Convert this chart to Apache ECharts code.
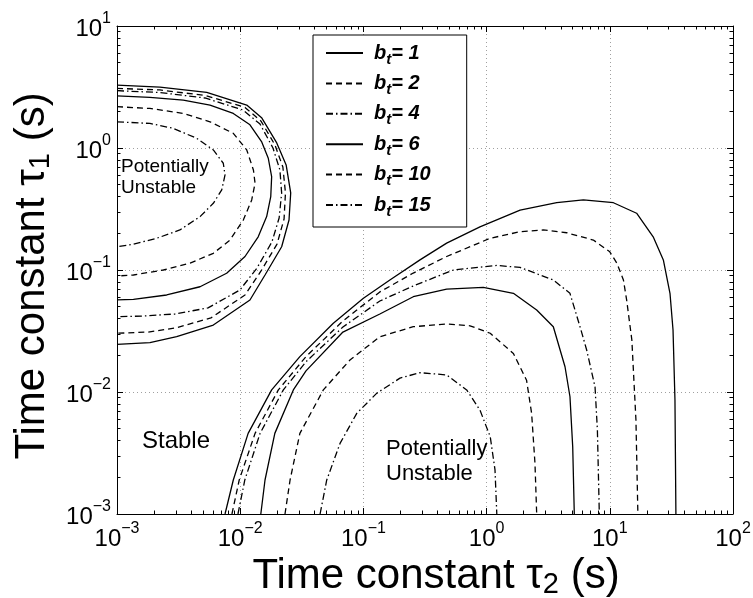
<!DOCTYPE html>
<html>
<head>
<meta charset="utf-8">
<script src="https://cdn.jsdelivr.net/npm/echarts@6/dist/echarts.min.js"></script>
<style>
  html, body { margin: 0; padding: 0; background: #fff; overflow: hidden; }
  #chart { width: 753px; height: 598px; }
</style>
</head>
<body>
<div id="chart"></div>
<script>
// Stability boundaries in the (tau2, tau1) plane for several b_t values.
const bValues = [1, 2, 4, 6, 10, 15];
const xTickValues = [1e-3, 1e-2, 1e-1, 1e0, 1e1, 1e2];
const yTickValues = [1e-3, 1e-2, 1e-1, 1e0, 1e1];

// Upper-left island: [tau2, tau1]
const upperB1 = [[0.001,3.28],[0.00223,3.16],[0.00535,2.86],[0.0113,2.25],[0.0150,1.76],[0.0198,1.10],[0.0236,0.726],[0.0257,0.428],[0.0249,0.257],[0.0217,0.155],[0.0159,0.091],[0.0120,0.0568],[0.00605,0.0354],[0.00305,0.0284],[0.00185,0.0254],[0.001,0.0246]];
const upperB2 = [[0.001,3.08],[0.00223,2.99],[0.00527,2.69],[0.01094,2.15],[0.01476,1.66],[0.01914,1.06],[0.0222,0.698],[0.0233,0.428],[0.0227,0.262],[0.0199,0.163],[0.01476,0.0982],[0.01094,0.0624],[0.00579,0.0405],[0.00301,0.0335],[0.00179,0.0310],[0.001,0.0303]];
const upperB4 = [[0.001,2.95],[0.00223,2.85],[0.00518,2.57],[0.01054,2.05],[0.01449,1.57],[0.01845,1.0],[0.0210,0.661],[0.0217,0.428],[0.0207,0.267],[0.0181,0.170],[0.0137,0.104],[0.00995,0.0686],[0.00548,0.0489],[0.00296,0.0436],[0.00169,0.0420],[0.001,0.0414]];
const upperB6 = [[0.001,2.67],[0.00185,2.60],[0.00345,2.47],[0.00569,2.25],[0.00879,1.92],[0.0120,1.55],[0.0149,1.13],[0.0169,0.824],[0.0180,0.582],[0.0177,0.399],[0.0164,0.274],[0.0140,0.187],[0.01094,0.129],[0.00776,0.0940],[0.00472,0.0729],[0.00253,0.0624],[0.00136,0.0575],[0.001,0.0568]];
const upperB10 = [[0.001,2.18],[0.00185,2.11],[0.00345,1.92],[0.00569,1.64],[0.00879,1.32],[0.0113,0.964],[0.0128,0.661],[0.0132,0.514],[0.0124,0.375],[0.0106,0.257],[0.00826,0.176],[0.00605,0.137],[0.00392,0.114],[0.00238,0.100],[0.00136,0.0910],[0.001,0.0893]];
const upperB15 = [[0.001,1.64],[0.00185,1.59],[0.00286,1.45],[0.00444,1.20],[0.00605,0.964],[0.00729,0.750],[0.00753,0.601],[0.00708,0.453],[0.00605,0.352],[0.00472,0.274],[0.00324,0.213],[0.00210,0.182],[0.00136,0.163],[0.001,0.155]];

// Lower-right region: [tau2, tau1]
const lowerB1 = [[0.00753,0.001],[0.00879,0.00190],[0.0116,0.00458],[0.0180,0.0104],[0.0305,0.0195],[0.0570,0.0366],[0.100,0.0586],[0.164,0.0828],[0.288,0.121],[0.474,0.166],[0.883,0.226],[1.87,0.310],[3.71,0.356],[6.10,0.375],[10.7,0.356],[16.5,0.292],[22.5,0.187],[27.2,0.121],[30.8,0.0644],[32.6,0.0322],[33.8,0.00859],[34.4,0.001]];
const lowerB2 = [[0.00857,0.001],[0.00982,0.00190],[0.0132,0.00458],[0.0204,0.0104],[0.0342,0.0195],[0.0682,0.0382],[0.136,0.0661],[0.254,0.0944],[0.474,0.129],[1.07,0.182],[1.87,0.206],[2.88,0.213],[4.47,0.202],[7.35,0.176],[10.0,0.141],[11.4,0.114],[12.9,0.0828],[13.7,0.0568],[15.1,0.0267],[16.3,0.00589],[16.9,0.001]];
const lowerB4 = [[0.00959,0.001],[0.0109,0.00190],[0.0145,0.00458],[0.0224,0.0104],[0.0342,0.0177],[0.0682,0.0341],[0.136,0.0557],[0.254,0.0740],[0.537,0.100],[1.21,0.109],[1.87,0.105],[3.48,0.0828],[4.75,0.0644],[5.73,0.0343],[6.49,0.0221],[7.59,0.0110],[7.93,0.00489],[8.22,0.001]];
const lowerB6 = [[0.0147,0.001],[0.0159,0.00190],[0.0191,0.00458],[0.0270,0.0104],[0.0342,0.0149],[0.0682,0.0310],[0.136,0.0436],[0.254,0.0604],[0.474,0.0698],[0.940,0.0721],[1.65,0.0644],[2.55,0.0470],[3.48,0.0343],[4.33,0.0161],[4.75,0.00914],[5.00,0.00356],[5.15,0.001]];
const lowerB10 = [[0.0231,0.001],[0.0254,0.00190],[0.0305,0.00458],[0.0473,0.0104],[0.0778,0.0183],[0.136,0.0284],[0.254,0.0343],[0.474,0.0361],[0.733,0.0349],[1.07,0.0303],[1.65,0.0207],[2.11,0.0125],[2.32,0.00668],[2.47,0.00260],[2.55,0.001]];
const lowerB15 = [[0.0445,0.001],[0.0504,0.00190],[0.0646,0.00379],[0.0883,0.00668],[0.128,0.00975],[0.198,0.0130],[0.288,0.0144],[0.474,0.0138],[0.689,0.0104],[0.883,0.00711],[1.07,0.00431],[1.17,0.00230],[1.21,0.001]];

const upperContours = [upperB1, upperB2, upperB4, upperB6, upperB10, upperB15];
const lowerContours = [lowerB1, lowerB2, lowerB4, lowerB6, lowerB10, lowerB15];

const FONT = '"Liberation Sans", Arial, Helvetica, sans-serif';
const DASH = { solid: 'solid', dashed: [6, 4], dashdot: [7, 3, 1.5, 3] };
const lineKinds = ['solid', 'dashed', 'dashdot', 'solid', 'dashed', 'dashdot'];

// minor tick positions (2..9 within each decade)
function minorTicks(lo, hi) {
  const out = [];
  for (let e = lo; e < hi; e++) for (let m = 2; m <= 9; m++) out.push(+(m * Math.pow(10, e)).toPrecision(3));
  return out;
}
const xMinor = minorTicks(-3, 2);
const yMinor = minorTicks(-3, 1);

const powerLabel = v => {
  const e = Math.round(Math.log10(v));
  return '{m|10}{e|' + String(e).replace('-', '\u2212') + '}';
};
const powerRich = {
  m: { fontSize: 24, fontFamily: FONT, color: '#000', lineHeight: 30, verticalAlign: 'bottom' },
  e: { fontSize: 16, fontFamily: FONT, color: '#000', lineHeight: 16, verticalAlign: 'top' }
};
const titleRich = {
  a: { fontSize: 42, fontFamily: FONT, color: '#000', lineHeight: 46, verticalAlign: 'middle' },
  s: { fontSize: 29, fontFamily: FONT, color: '#000', lineHeight: 12, verticalAlign: 'bottom' }
};

function axisSet(dim, pos, ticks, minor, extra) {
  const range = dim === 'x' ? { min: 1e-3, max: 1e2 } : { min: 1e-3, max: 1e1 };
  const base = Object.assign({ type: 'log', logBase: 10, position: pos }, range);
  const major = Object.assign({}, base, {
    axisLine: { show: true, onZero: false, lineStyle: { color: '#000', width: 1 } },
    axisTick: { show: true, inside: true, length: 6, customValues: ticks, lineStyle: { color: '#000', width: 1 } },
    axisLabel: { show: false },
    splitLine: { show: false }
  }, extra || {});
  const min = Object.assign({}, base, {
    axisLine: { show: false },
    axisTick: { show: true, inside: true, length: 3.5, customValues: minor, lineStyle: { color: '#000', width: 1 } },
    axisLabel: { show: false },
    splitLine: { show: false }
  });
  return [major, min];
}

const xAxes = [].concat(
  axisSet('x', 'bottom', xTickValues, xMinor, {
    axisLabel: { show: true, customValues: xTickValues, formatter: powerLabel, rich: powerRich, margin: 7 },
    splitLine: { show: true, lineStyle: { type: [1, 3], color: '#a0a0a0', width: 1 } },
    name: '{a|Time constant \u03c4}{s|2}{a| (s)}',
    nameLocation: 'middle',
    nameGap: 30,
    nameTextStyle: { rich: titleRich, padding: [0, 0, 0, 22] }
  }),
  axisSet('x', 'top', xTickValues, xMinor)
);
const yAxes = [].concat(
  axisSet('y', 'left', yTickValues, yMinor, {
    axisLabel: { show: true, customValues: yTickValues, formatter: powerLabel, rich: powerRich, margin: 6 },
    splitLine: { show: true, lineStyle: { type: [1, 3], color: '#a0a0a0', width: 1 } },
    name: '{a|Time constant \u03c4}{s|1}{a| (s)}',
    nameLocation: 'middle',
    nameGap: 62,
    nameTextStyle: { rich: titleRich, padding: [0, 12, 0, 0] }
  }),
  axisSet('y', 'right', yTickValues, yMinor)
);

const series = [];
bValues.forEach((b, i) => {
  const style = { color: '#000', width: 1.3, type: DASH[lineKinds[i]] };
  [upperContours[i], lowerContours[i]].forEach(pts => {
    series.push({
      name: 'b' + b,
      type: 'line',
      xAxisIndex: 0,
      yAxisIndex: 0,
      data: pts,
      showSymbol: false,
      symbol: 'none',
      smooth: false,
      clip: true,
      silent: true,
      itemStyle: { color: '#000' },
      lineStyle: style
    });
  });
});

const chart = echarts.init(document.getElementById('chart'), null, { renderer: 'canvas', width: 753, height: 598 });
chart.setOption({
  animation: false,
  backgroundColor: '#fff',
  grid: { left: 117, top: 26, right: 20, bottom: 84, containLabel: false, outerBoundsMode: 'none' },
  xAxis: xAxes,
  yAxis: yAxes,
  legend: {
    data: bValues.map(b => 'b' + b),
    orient: 'vertical',
    left: 313,
    top: 35,
    padding: [8, 36, 8, 12],
    itemWidth: 37,
    itemHeight: 10,
    itemGap: 6.4,
    backgroundColor: '#fff',
    borderColor: '#000',
    borderWidth: 1,
    borderRadius: 0,
    selectedMode: false,
    itemStyle: { color: 'rgba(0,0,0,0)', borderWidth: 0, borderColor: 'rgba(0,0,0,0)' },
    formatter: name => '{b|b}{t|t}{v|= ' + name.slice(1) + '}',
    textStyle: {
      rich: {
        b: { fontSize: 20, fontStyle: 'italic', fontWeight: 'bold', fontFamily: FONT, color: '#000', lineHeight: 28, verticalAlign: 'middle', padding: [0, 0, 0, 6] },
        t: { fontSize: 15, fontStyle: 'italic', fontWeight: 'bold', fontFamily: FONT, color: '#000', lineHeight: 8, verticalAlign: 'bottom' },
        v: { fontSize: 20, fontStyle: 'italic', fontWeight: 'bold', fontFamily: FONT, color: '#000', lineHeight: 28, verticalAlign: 'middle' }
      }
    }
  },
  graphic: [
    { type: 'text', left: 121, top: 156, silent: true,
      style: { text: 'Potentially\nUnstable', font: '19px ' + FONT, fill: '#000', lineHeight: 21 } },
    { type: 'text', left: 142, top: 429, silent: true,
      style: { text: 'Stable', font: '24px ' + FONT, fill: '#000' } },
    { type: 'text', left: 386, top: 436, silent: true,
      style: { text: 'Potentially\nUnstable', font: '22px ' + FONT, fill: '#000', lineHeight: 25 } }
  ],
  series: series
});
</script>
</body>
</html>
